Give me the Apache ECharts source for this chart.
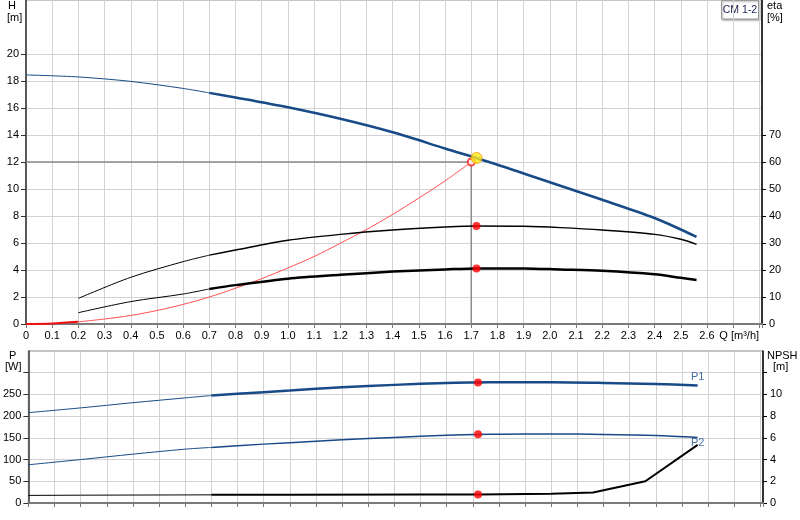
<!DOCTYPE html>
<html><head><meta charset="utf-8">
<script src="https://cdn.jsdelivr.net/npm/echarts@6/dist/echarts.min.js"></script>
<style>html,body{margin:0;padding:0;background:#fff}#c{width:800px;height:520px}</style>
</head><body><div id="c"></div>
<script>
// ---- data ----
const qH   = [0, 0.2, 0.4, 0.6, 0.7, 0.8, 1.0, 1.2, 1.4, 1.6, 1.8, 2.0, 2.2, 2.4, 2.5, 2.56];
const head = [18.45, 18.3, 17.97, 17.45, 17.12, 16.78, 16.05, 15.2, 14.2, 13.0, 11.8, 10.5, 9.2, 7.85, 7.0, 6.45];

const qEta     = [0.2, 0.4, 0.6, 0.7, 0.8, 1.0, 1.2, 1.4, 1.6, 1.72, 1.9, 2.04, 2.2, 2.4, 2.5, 2.56];
const etaPump  = [9.5, 17.3, 23.1, 25.5, 27.4, 31.0, 33.2, 34.8, 35.9, 36.3, 36.2, 35.7, 34.8, 33.2, 31.4, 29.5];
const etaTotal = [4.2, 8.3, 11.1, 13.0, 14.4, 16.8, 18.2, 19.4, 20.2, 20.6, 20.6, 20.2, 19.7, 18.4, 17.1, 16.3];

const qSys = [0, 0.1, 0.2, 0.3, 0.4, 0.5, 0.6, 0.7, 0.8, 0.9, 1.0, 1.1, 1.2, 1.3, 1.4, 1.5, 1.6, 1.7];
const hSys = [0, 0.04, 0.16, 0.37, 0.63, 1.0, 1.45, 2.0, 2.65, 3.36, 4.15, 5.0, 5.98, 7.0, 8.12, 9.33, 10.6, 12.0];

const qP = [0, 0.2, 0.4, 0.6, 0.7, 0.8, 1.0, 1.2, 1.4, 1.6, 1.72, 1.8, 2.0, 2.2, 2.4, 2.56];
const p1 = [208, 219, 231, 242, 247.5, 251.5, 259, 266.5, 272, 276.5, 277.5, 278, 278, 276.5, 274, 270.5];
const p2 = [88, 100, 112.5, 124, 128, 132, 139, 145.5, 151, 156, 158, 158.5, 159, 158, 155.5, 151];

const qNpsh = [0, 0.2, 0.7, 1.0, 1.5, 1.72, 2.0, 2.16, 2.36, 2.56];
const npsh  = [0.7, 0.72, 0.75, 0.76, 0.78, 0.79, 0.85, 0.97, 2.0, 5.35];

// duty point
const dutyQ = 1.72, dutyH = 12.3;
const reqQ = 1.7, reqH = 12;
const dutyEtaPump = 36.3, dutyEtaTotal = 20.6, dutyP1 = 277.5, dutyP2 = 158.2, dutyNpsh = 0.79;

// ticks / labels
const qLabels = [0,0.1,0.2,0.3,0.4,0.5,0.6,0.7,0.8,0.9,1.0,1.1,1.2,1.3,1.4,1.5,1.6,1.7,1.8,1.9,2.0,2.1,2.2,2.3,2.4,2.5,2.6,2.7];
const hTicks = [0,2,4,6,8,10,12,14,16,18,20];
const etaTicks = [0,10,20,30,40,50,60,70];
const pTicks = [0,50,100,150,200,250,300];
const pLabels = [0,50,100,150,200,250];
const npshTicks = [0,2,4,6,8,10,12];
const npshLabels = [0,2,4,6,8,10];
const title = 'CM 1-2';
const curveNames = ['P1', 'P2'];

// ---- helpers ----
const pairs = (xs, ys) => xs.map((x, i) => [x, ys[i]]);
const thinPart = (xs, ys, q0) => pairs(xs, ys).filter(p => p[0] <= q0 + 1e-9);
const thickPart = (xs, ys, q0) => pairs(xs, ys).filter(p => p[0] >= q0 - 1e-9);

const BLUE = '#174a87';
const FF = 'Liberation Sans, Arial, sans-serif';
const FONT = {fontFamily: FF, fontSize: 11, color: '#000'};
const GRIDC = '#d2d2d2';

function line(data, x, y, color, width, extra) {
  return Object.assign({type: 'line', xAxisIndex: x, yAxisIndex: y, data: data, symbol: 'none',
    smooth: 0.3, lineStyle: {color: color, width: width}, silent: true}, extra || {});
}
function dot(data, x, y, extra) {
  return Object.assign({type: 'scatter', xAxisIndex: x, yAxisIndex: y, data: data, symbolSize: 8,
    itemStyle: {color: '#ff0000'}, z: 10, silent: true}, extra || {});
}
function endLabel(xs, ys, text, pos, dist) {
  const n = xs.length - 1;
  return {type: 'scatter', xAxisIndex: 1, yAxisIndex: 2, data: [[xs[n], ys[n]]], symbolSize: 1,
    itemStyle: {color: 'rgba(0,0,0,0)'}, silent: true, z: 15,
    label: {show: true, formatter: text, position: pos, distance: dist, color: BLUE, fontSize: 11, fontFamily: FF}};
}

const chart = echarts.init(document.getElementById('c'), null, {renderer: 'canvas'});

const xCommon = {type: 'value', min: 0, max: 2.81, interval: 0.1,
  splitLine: {show: true, lineStyle: {color: GRIDC, width: 1}},
  axisLine: {onZero: false, lineStyle: {color: '#7a7a7a', width: 2}},
  axisTick: {length: 4, lineStyle: {color: '#7a7a7a'}}};

const TXT = '11px Liberation Sans, Arial';

const option = {
  animation: false,
  backgroundColor: '#fff',
  grid: [
    {left: 26, right: 38, top: 0, height: 324, show: true, borderColor: '#8a8a8a', borderWidth: 1},
    {left: 26, right: 37, top: 351, height: 152, show: true, borderColor: '#8a8a8a', borderWidth: 1}
  ],
  xAxis: [
    Object.assign({}, xCommon, {gridIndex: 0,
      axisLabel: Object.assign({}, FONT, {customValues: qLabels, margin: 6,
        formatter: v => v > 2.65 ? '{q|Q [m³/h]}' : (v === 0 ? '0' : v.toFixed(1)),
        rich: {q: Object.assign({}, FONT, {padding: [0, 0, 0, 12]})}})}),
    Object.assign({}, xCommon, {gridIndex: 1, axisLabel: {show: false}})
  ],
  yAxis: [
    {gridIndex: 0, type: 'value', position: 'left', min: 0, max: 24, interval: 2,
      axisLine: {show: true, lineStyle: {color: '#333', width: 1.5}},
      axisTick: {show: true, length: 5, customValues: hTicks, lineStyle: {color: '#333'}},
      axisLabel: Object.assign({}, FONT, {customValues: hTicks, margin: 7}),
      splitLine: {show: true, lineStyle: {color: GRIDC, width: 1}}},
    {gridIndex: 0, type: 'value', position: 'right', min: 0, max: 120, interval: 10,
      axisLine: {show: true, lineStyle: {color: '#000', width: 1.5}},
      axisTick: {show: true, length: 4, customValues: etaTicks, lineStyle: {color: '#000'}},
      axisLabel: Object.assign({}, FONT, {customValues: etaTicks, margin: 7}),
      splitLine: {show: false}},
    {gridIndex: 1, type: 'value', position: 'left', min: 0, max: 350, interval: 50,
      axisLine: {show: true, lineStyle: {color: '#333', width: 1.5}},
      axisTick: {show: true, length: 5, customValues: pTicks, lineStyle: {color: '#333'}},
      axisLabel: Object.assign({}, FONT, {customValues: pLabels, margin: 7}),
      splitLine: {show: true, lineStyle: {color: GRIDC, width: 1}}},
    {gridIndex: 1, type: 'value', position: 'right', min: 0, max: 14, interval: 2,
      axisLine: {show: true, lineStyle: {color: '#000', width: 1.5}},
      axisTick: {show: true, length: 4, customValues: npshTicks, lineStyle: {color: '#000'}},
      axisLabel: Object.assign({}, FONT, {customValues: npshLabels, margin: 7}),
      splitLine: {show: false}}
  ],
  series: [
    // duty crosshair
    line([[0, reqH], [reqQ, reqH], [reqQ, 0]], 0, 0, '#8c8c8c', 1.5, {smooth: false, z: 3}),
    // system curve
    line(thinPart(qSys, hSys, 0.2), 0, 0, '#ee1111', 2, {z: 4}),
    line(thickPart(qSys, hSys, 0.2), 0, 0, '#ff5050', 1, {z: 4}),
    // head
    line(thinPart(qH, head, 0.7), 0, 0, BLUE, 1, {z: 5}),
    line(thickPart(qH, head, 0.7), 0, 0, BLUE, 2.5, {z: 5}),
    // efficiencies
    line(thinPart(qEta, etaPump, 0.7), 0, 1, '#000', 1, {z: 5}),
    line(thickPart(qEta, etaPump, 0.7), 0, 1, '#000', 1.4, {z: 5}),
    line(thinPart(qEta, etaTotal, 0.7), 0, 1, '#000', 1, {z: 5}),
    line(thickPart(qEta, etaTotal, 0.7), 0, 1, '#000', 2.5, {z: 5}),
    // duty markers top
    dot([[reqQ, reqH]], 0, 0, {symbol: 'emptyCircle', symbolSize: 7, itemStyle: {color: '#ff2020', borderWidth: 1}}),
    dot([[dutyQ, dutyH]], 0, 0, {symbolSize: 11, itemStyle: {color: '#ffe81a', borderColor: '#f39a00', borderWidth: 1}, z: 12}),
    dot([[dutyQ, dutyEtaPump], [dutyQ, dutyEtaTotal]], 0, 1),
    // power
    line(thinPart(qP, p1, 0.7), 1, 2, BLUE, 1, {z: 5}),
    line(thickPart(qP, p1, 0.7), 1, 2, BLUE, 2.5, {z: 5}),
    line(thinPart(qP, p2, 0.7), 1, 2, BLUE, 1, {z: 5}),
    line(thickPart(qP, p2, 0.7), 1, 2, BLUE, 1.5, {z: 5}),
    endLabel(qP, p1, curveNames[0], 'top', 3),
    endLabel(qP, p2, curveNames[1], 'bottom', 0),
    // npsh
    line(thinPart(qNpsh, npsh, 0.7), 1, 3, '#000', 1, {smooth: false, z: 5}),
    line(thickPart(qNpsh, npsh, 0.7), 1, 3, '#000', 2, {smooth: false, z: 5}),
    // duty markers bottom
    dot([[dutyQ, dutyP1], [dutyQ, dutyP2]], 1, 2),
    dot([[dutyQ, dutyNpsh]], 1, 3)
  ],
  graphic: [
    {type: 'text', left: 8, top: 0, style: {text: 'H', font: TXT, fill: '#000'}, z: 20},
    {type: 'text', left: 7, top: 12, style: {text: '[m]', font: TXT, fill: '#000'}, z: 20},
    {type: 'text', left: 767, top: 0, style: {text: 'eta', font: TXT, fill: '#000'}, z: 20},
    {type: 'text', left: 767, top: 12, style: {text: '[%]', font: TXT, fill: '#000'}, z: 20},
    {type: 'text', left: 9, top: 350, style: {text: 'P', font: TXT, fill: '#000'}, z: 20},
    {type: 'text', left: 5, top: 361, style: {text: '[W]', font: TXT, fill: '#000'}, z: 20},
    {type: 'text', left: 767, top: 350, style: {text: 'NPSH', font: TXT, fill: '#000'}, z: 20},
    {type: 'text', left: 773, top: 361, style: {text: '[m]', font: TXT, fill: '#000'}, z: 20},
    {type: 'group', left: 721, top: 0, z: 30, children: [
      {type: 'rect', shape: {x: 0.5, y: 0.5, width: 37, height: 18.5},
        style: {fill: '#fff', stroke: '#9a9a9a', lineWidth: 1, shadowBlur: 2, shadowOffsetX: 1, shadowOffsetY: 1, shadowColor: 'rgba(0,0,0,0.35)'}},
      {type: 'text', x: 19, y: 10, style: {text: title, font: '10.5px Liberation Sans, Arial', fill: '#1a2050', align: 'center', verticalAlign: 'middle'}}
    ]}
  ]
};
chart.setOption(option);
</script>
</body></html>
